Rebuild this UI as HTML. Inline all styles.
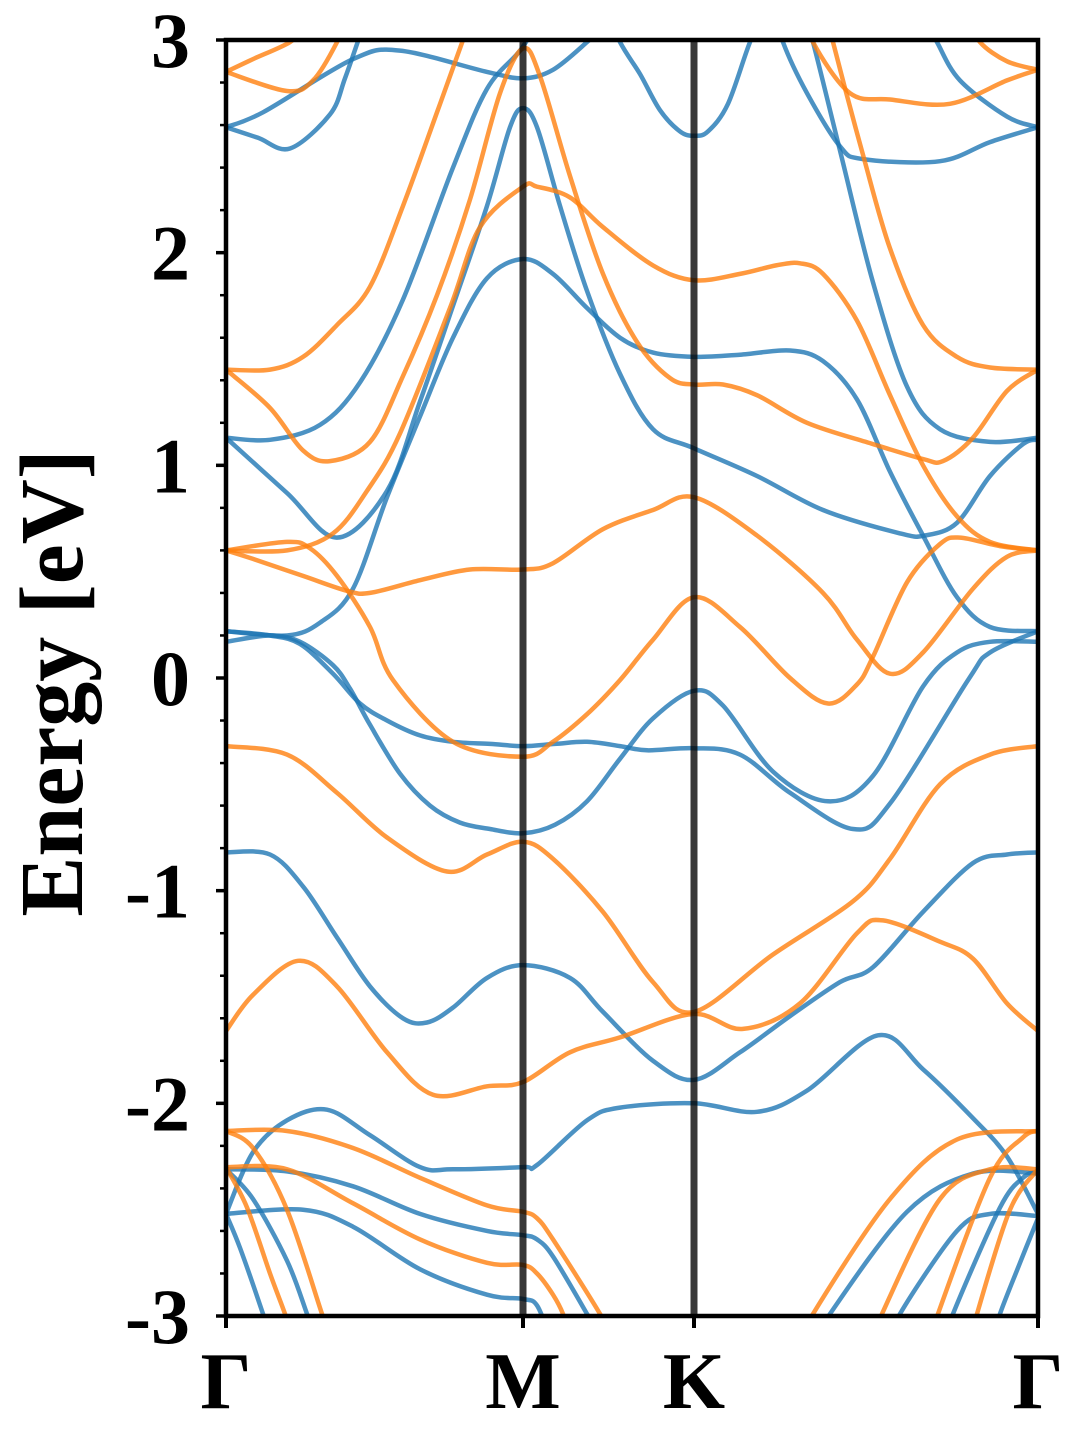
<!DOCTYPE html>
<html><head><meta charset="utf-8"><style>
html,body{margin:0;padding:0;background:#fff;}
svg{display:block;}
text{font-family:"Liberation Serif","DejaVu Serif",serif;font-weight:bold;fill:#000;}
</style></head><body>
<svg id="chart" width="1080" height="1440" viewBox="0 0 1080 1440" xmlns="http://www.w3.org/2000/svg">
<defs><clipPath id="plotclip"><rect x="226" y="40" width="812" height="1276"/></clipPath></defs>
<g id="bands" clip-path="url(#plotclip)"></g>
<g id="axes"></g>
<text x="0" y="0" font-size="90" text-anchor="middle" transform="translate(82,683) rotate(-90)">Energy [eV]</text>
</svg>
<script>
const kTicks = [0, 2.97, 4.68, 8.12];
const kLabels = ['Γ', 'M', 'K', 'Γ'];
const eTicks = [3, 2, 1, 0, -1, -2, -3];
const eTickLabels = ['3', '2', '1', '0', '-1', '-2', '-3'];

const upK = [
 [0,0.32,0.64,1.04,1.19,1.36],
 [0,0.37,1.27,1.74,2.61,2.97,3.27,3.61,3.74],
 [0,0.44,0.94,1.34,1.77,2.27,2.61,2.94,3.14],
 [0,0.61,1.11,1.61,1.94,2.27,2.61,2.84,2.97,3.11,3.34,3.61,3.94,4.27,4.68,5.31,5.97,6.74,6.99,7.31,7.64,7.97,8.12],
 [0,0.61,0.94,1.27,1.61,1.94,2.27,2.61,2.97,3.27,3.61,3.94,4.27,4.68,5.14,5.64,5.97,6.31,6.64,6.97,7.31,7.64,8.12],
 [3.74,3.94,4.14,4.34,4.54,4.68,4.82,5.02,5.24,5.44],
 [5.74,5.87,6.14,6.47,6.81,7.14,7.64,8.12],
 [5.49,5.57,5.81,6.14,6.37,7.14,7.64,8.12],
 [6.99,7.11,7.34,7.81,8.12],
 [0,0.44,0.74,1.07,1.34,1.61,1.94,2.27,2.64,2.97,3.29,3.61,3.94,4.21,4.68,5.14,5.64,6.27,6.64,7.42,7.64,8.12],
 [0,0.44,0.74,1.07,1.24,1.44,1.74,2.04,2.34,2.64,2.97,3.29,3.61,3.94,4.27,4.68,4.97,5.47,6.02,6.47,6.97,7.31,7.64,8.12],
 [0,0.44,0.77,1.11,1.44,1.77,2.01,2.27,2.61,2.97,3.44,3.77,4.27,4.68,5.14,5.64,6.14,6.47,6.97,7.47,7.81,8.12],
 [0,0.27,0.61,1.01,1.44,1.94,2.27,2.97,3.11,3.61,3.94,4.68,5.31,5.81,6.52,6.97,7.47,7.81,8.12],
 [0,0.61,1.27,1.94,2.61,2.97,3.11,3.27,3.61,3.74],
 [0,0.77,1.27,1.94,2.61,2.97,3.11,3.24],
 [0,0.27,0.61,0.81,0.89],
 [0,0.14,0.37,0.44],
 [5.94,6.04,6.81,7.47,8.12],
 [6.69,6.74,7.31,7.64,8.12],
 [7.22,7.27,7.74,7.97,8.12],
 [7.69,7.74,7.94,8.12]
];
const upE = [
 [2.59,2.54,2.49,2.65,2.82,3.05],
 [2.59,2.66,2.91,2.95,2.85,2.82,2.86,2.99,3.05],
 [1.13,1.12,1.19,1.39,1.78,2.40,2.77,2.95,3.1],
 [1.13,0.87,0.66,0.88,1.30,1.75,2.22,2.59,2.68,2.59,2.22,1.82,1.43,1.17,1.08,0.95,0.79,0.68,0.67,0.73,0.95,1.10,1.12],
 [0.22,0.20,0.26,0.42,0.85,1.23,1.60,1.88,1.97,1.90,1.74,1.60,1.53,1.51,1.52,1.54,1.49,1.31,0.97,0.67,0.38,0.24,0.22],
 [3.2,2.99,2.84,2.67,2.57,2.55,2.57,2.70,2.99,3.2],
 [3.2,2.99,2.48,1.86,1.37,1.17,1.11,1.13],
 [3.15,2.99,2.75,2.50,2.44,2.43,2.52,2.59],
 [3.1,2.99,2.81,2.64,2.59],
 [0.22,0.20,0.16,0.02,-0.12,-0.20,-0.27,-0.30,-0.31,-0.32,-0.31,-0.30,-0.32,-0.34,-0.33,-0.36,-0.54,-0.71,-0.59,-0.01,0.12,0.22],
 [0.17,0.20,0.17,0.06,-0.05,-0.22,-0.45,-0.60,-0.68,-0.71,-0.73,-0.69,-0.58,-0.38,-0.19,-0.06,-0.13,-0.44,-0.58,-0.46,-0.04,0.12,0.17,0.17],
 [-0.82,-0.83,-0.98,-1.22,-1.45,-1.60,-1.62,-1.55,-1.41,-1.35,-1.41,-1.57,-1.80,-1.89,-1.76,-1.59,-1.43,-1.36,-1.10,-0.87,-0.83,-0.82],
 [-2.52,-2.23,-2.08,-2.03,-2.15,-2.30,-2.31,-2.30,-2.29,-2.08,-2.02,-2.00,-2.04,-1.94,-1.68,-1.84,-2.07,-2.25,-2.52],
 [-2.31,-2.32,-2.39,-2.52,-2.60,-2.62,-2.64,-2.72,-2.99,-3.1],
 [-2.52,-2.50,-2.58,-2.78,-2.90,-2.92,-2.95,-3.1],
 [-2.31,-2.45,-2.74,-2.99,-3.1],
 [-2.52,-2.68,-2.99,-3.1],
 [-3.1,-2.99,-2.51,-2.33,-2.33],
 [-3.1,-2.99,-2.60,-2.52,-2.53],
 [-3.1,-2.99,-2.49,-2.35,-2.32],
 [-3.1,-2.99,-2.75,-2.54]
];
const dnK = [
 [0,0.27,0.64,0.74],
 [0,0.61,0.87,1.11,1.19],
 [0,0.44,0.77,1.11,1.44,1.77,2.11,2.37,2.44],
 [0,0.44,0.77,1.04,1.44,1.77,2.11,2.44,2.74,2.97,3.14,3.44,3.77,4.11,4.44,4.68,4.97,5.31,5.81,6.47,6.97,7.17,7.47,7.81,8.12],
 [0,0.61,1.07,1.41,1.74,2.24,2.54,2.97,3.11,3.44,3.77,4.27,4.68,5.14,5.5,5.74,5.97,6.31,6.64,6.97,7.31,7.64,8.12],
 [0,0.61,0.84,1.11,1.44,1.67,2.27,2.97,3.27,3.61,3.94,4.27,4.68,5.14,5.64,6.02,6.31,6.47,6.81,7.14,7.34,7.74,8.12],
 [0,0.27,0.77,1.21,1.44,1.94,2.44,2.97,3.27,3.77,4.27,4.68,5.31,5.97,6.31,6.64,6.97,7.47,7.81,8.12],
 [0,0.61,1.11,1.61,2.21,2.61,2.97,3.27,3.77,4.27,4.68,5.47,6.27,6.64,7.14,7.64,8.12],
 [0,0.27,0.72,1.11,1.61,2.07,2.61,2.97,3.44,3.94,4.67,5.17,5.74,6.31,6.57,7.14,7.47,7.81,8.12],
 [0,0.61,1.27,1.94,2.61,2.97,3.11,3.27,3.74,3.84],
 [0,0.61,1.27,1.94,2.61,2.97,3.11,3.27,3.37,3.44],
 [0,0.27,0.61,0.96,1.04],
 [0,0.21,0.44,0.59,0.66],
 [5.79,5.87,6.64,7.31,8.12],
 [6.50,6.56,7.14,7.64,8.12],
 [7.07,7.12,7.64,7.97,8.12],
 [7.46,7.51,7.84,8.12],
 [5.79,5.87,6.24,6.64,7.24,7.81,8.12],
 [6.02,6.07,6.37,6.64,6.97,7.31,7.64,8.12],
 [7.44,7.54,7.81,8.12]
];
const dnE = [
 [2.85,2.91,2.99,3.05],
 [2.85,2.76,2.81,2.99,3.1],
 [1.45,1.45,1.51,1.66,1.84,2.22,2.66,3.0,3.1],
 [1.45,1.27,1.07,1.02,1.11,1.42,1.80,2.25,2.75,2.96,2.83,2.36,1.90,1.58,1.41,1.38,1.38,1.33,1.20,1.10,1.03,1.02,1.13,1.35,1.45],
 [0.60,0.60,0.68,0.88,1.15,1.74,2.12,2.31,2.31,2.26,2.12,1.94,1.87,1.90,1.94,1.95,1.90,1.68,1.33,1.00,0.76,0.64,0.60],
 [0.60,0.64,0.61,0.48,0.24,-0.01,-0.30,-0.37,-0.30,-0.17,-0.01,0.18,0.38,0.24,0.0,-0.12,-0.03,0.1,0.45,0.63,0.66,0.62,0.60],
 [0.60,0.56,0.48,0.41,0.40,0.46,0.51,0.51,0.54,0.70,0.79,0.85,0.67,0.40,0.18,0.02,0.12,0.42,0.57,0.60],
 [-0.32,-0.36,-0.54,-0.75,-0.91,-0.83,-0.77,-0.85,-1.10,-1.43,-1.57,-1.30,-1.05,-0.85,-0.50,-0.36,-0.32],
 [-1.66,-1.49,-1.33,-1.45,-1.76,-1.96,-1.92,-1.90,-1.76,-1.69,-1.58,-1.65,-1.53,-1.20,-1.14,-1.24,-1.32,-1.53,-1.66],
 [-2.13,-2.13,-2.21,-2.35,-2.48,-2.51,-2.54,-2.64,-2.99,-3.1],
 [-2.30,-2.31,-2.47,-2.64,-2.75,-2.76,-2.80,-2.90,-2.99,-3.1],
 [-2.13,-2.21,-2.50,-2.99,-3.1],
 [-2.30,-2.49,-2.80,-2.99,-3.1],
 [-3.1,-2.99,-2.45,-2.17,-2.13],
 [-3.1,-2.99,-2.45,-2.31,-2.31],
 [-3.1,-2.99,-2.35,-2.16,-2.13],
 [-3.1,-2.99,-2.50,-2.31],
 [3.15,2.99,2.75,2.72,2.70,2.81,2.86],
 [3.1,2.99,2.46,2.02,1.66,1.51,1.46,1.45],
 [3.1,2.99,2.90,2.86]
];

const X0 = 226, X1 = 1038, Y0 = 40, Y1 = 1316;
const kMin = 0, kMax = 8.12, eMin = -3, eMax = 3;
function xOf(k){ return X0 + (k - kMin) / (kMax - kMin) * (X1 - X0); }
function yOf(e){ return Y1 - (e - eMin) / (eMax - eMin) * (Y1 - Y0); }
const NS = 'http://www.w3.org/2000/svg';
const bandsG = document.getElementById('bands');
const axesG = document.getElementById('axes');

function smoothPath(pts){
  let d = 'M' + pts[0][0].toFixed(1) + ',' + pts[0][1].toFixed(1);
  for (let i = 0; i < pts.length - 1; i++){
    const p0 = pts[i-1] || pts[i], p1 = pts[i], p2 = pts[i+1], p3 = pts[i+2] || pts[i+1];
    const c1x = p1[0] + (p2[0]-p0[0])/6, c1y = p1[1] + (p2[1]-p0[1])/6;
    const c2x = p2[0] - (p3[0]-p1[0])/6, c2y = p2[1] - (p3[1]-p1[1])/6;
    d += ' C' + c1x.toFixed(1) + ',' + c1y.toFixed(1) + ' ' + c2x.toFixed(1) + ',' + c2y.toFixed(1) + ' ' + p2[0].toFixed(1) + ',' + p2[1].toFixed(1);
  }
  return d;
}
function drawBands(ks, es, color, spin){
  for (let b = 0; b < ks.length; b++){
    const pts = ks[b].map((k, i) => [xOf(k), yOf(es[b][i])]);
    const p = document.createElementNS(NS, 'path');
    p.setAttribute('d', smoothPath(pts));
    p.setAttribute('fill', 'none');
    p.setAttribute('stroke', color);
    p.setAttribute('stroke-opacity', '0.8');
    p.setAttribute('stroke-width', '4.5');
    p.setAttribute('stroke-linecap', 'round');
    p.setAttribute('stroke-linejoin', 'round');
    
    
    bandsG.appendChild(p);
  }
}
drawBands(upK, upE, '#1f77b4', 'spin-up');
drawBands(dnK, dnE, '#ff7f0e', 'spin-down');

for (let i = 1; i < kTicks.length - 1; i++){
  const l = document.createElementNS(NS, 'line');
  l.setAttribute('x1', xOf(kTicks[i])); l.setAttribute('x2', xOf(kTicks[i]));
  l.setAttribute('y1', Y0); l.setAttribute('y2', Y1);
  l.setAttribute('stroke', '#000'); l.setAttribute('stroke-opacity', '0.78'); l.setAttribute('stroke-width', '7');
  
  
  bandsG.appendChild(l);
}
const fr = document.createElementNS(NS, 'rect');
fr.setAttribute('x', X0); fr.setAttribute('y', Y0); fr.setAttribute('width', X1 - X0); fr.setAttribute('height', Y1 - Y0);
fr.setAttribute('fill', 'none'); fr.setAttribute('stroke', '#000'); fr.setAttribute('stroke-width', '4.5');


axesG.appendChild(fr);
for (let e = -3; e <= 3.001; e += 0.2){
  const t = document.createElementNS(NS, 'line');
  const major = Math.abs(e - Math.round(e)) < 0.01;
  t.setAttribute('x1', X0 - (major ? 10 : 6)); t.setAttribute('x2', X0);
  t.setAttribute('y1', yOf(e)); t.setAttribute('y2', yOf(e));
  t.setAttribute('stroke', '#000'); t.setAttribute('stroke-width', major ? '3.5' : '2.5');
  
  
  axesG.appendChild(t);
}
for (let i = 0; i < eTicks.length; i++){
  const tx = document.createElementNS(NS, 'text');
  tx.setAttribute('x', 190); tx.setAttribute('y', yOf(eTicks[i]) + 27);
  tx.setAttribute('font-size', '78'); tx.setAttribute('text-anchor', 'end');
  tx.textContent = eTickLabels[i];
  
  
  axesG.appendChild(tx);
}
for (let i = 0; i < kTicks.length; i++){
  const t = document.createElementNS(NS, 'line');
  t.setAttribute('x1', xOf(kTicks[i])); t.setAttribute('x2', xOf(kTicks[i]));
  t.setAttribute('y1', Y1); t.setAttribute('y2', Y1 + 12);
  t.setAttribute('stroke', '#000'); t.setAttribute('stroke-width', '4');
  
  
  axesG.appendChild(t);
  const tx = document.createElementNS(NS, 'text');
  tx.setAttribute('x', xOf(kTicks[i])); tx.setAttribute('y', 1408);
  tx.setAttribute('font-size', '80'); tx.setAttribute('text-anchor', 'middle');
  tx.textContent = kLabels[i];
  
  
  axesG.appendChild(tx);
}
</script>
</body></html>
